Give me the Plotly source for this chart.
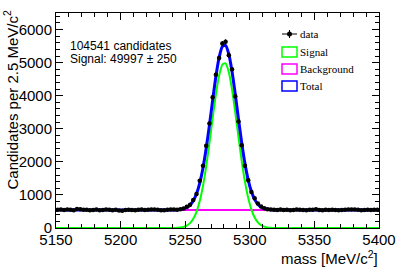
import numpy as np
import plotly.graph_objects as go

# ---------------- data ----------------
bin_width = 2.5
mass_lo, mass_hi = 5150, 5400
bin_centers = [5151.25 + 2.5 * k for k in range(100)]

counts_left = [548, 556, 541, 560, 552, 538, 571, 566, 549, 553,
               540, 547, 558, 536, 544, 562, 551, 539, 548, 530,
               522, 543, 555, 547, 538, 551, 560, 546, 552, 558,
               563, 549, 540, 537, 552, 560, 556, 553]
counts_peak = [565, 590, 640, 705, 850, 1030, 1430, 1880, 2490, 3160,
               3950, 4630, 5140, 5580, 5630, 5220, 4800, 3980, 3220, 2500,
               1880, 1440, 1090, 900, 740, 650, 600, 570, 556]
counts_right = [549, 543, 556, 541, 552, 538, 547, 560, 551, 545,
                539, 553, 548, 566, 542, 536, 549, 541, 555, 547,
                538, 544, 552, 558, 563, 560, 549, 537, 545, 551,
                546, 554, 548]
counts = counts_left + counts_peak + counts_right

# fitted signal component at bin centres 5243.75 ... 5316.25 (zero elsewhere)
signal_core = [6, 15, 35, 74, 147, 277, 490, 815, 1271, 1864,
               2566, 3320, 4035, 4606, 4940, 4977, 4711, 4188, 3498, 2745,
               2024, 1401, 911, 557, 320, 173, 87, 42, 19, 8]
background_level = 545

n_candidates = 104541
n_signal, n_signal_err = 49997, 250

legend_labels = ["data", "Signal", "Background", "Total"]

# ---------------- derived ----------------
signal_fit = [0] * 37 + signal_core + [0] * (100 - 37 - len(signal_core))
fit_mass = [mass_lo] + bin_centers + [mass_hi]
sig_curve = [0] + signal_fit + [0]
bkg_curve = [background_level] * len(fit_mass)
tot_curve = [s + background_level for s in sig_curve]
errs = [float(np.sqrt(c)) for c in counts]

# plot-area geometry (px)
W, H = 399, 271
L, R, T, B = 56, 20, 13, 43
PW, PH = W - L - R, H - T - B


def px(x):
    return (x - L) / PW


def py(y):
    return (H - B - y) / PH


fig = go.Figure()
fig.add_trace(go.Scatter(x=fit_mass, y=bkg_curve, mode="lines",
                         line=dict(color="#ff00ff", width=2), name="Background"))
fig.add_trace(go.Scatter(x=fit_mass, y=sig_curve, mode="lines",
                         line=dict(color="#00ff00", width=2, shape="spline", smoothing=0.6),
                         name="Signal"))
fig.add_trace(go.Scatter(x=fit_mass, y=tot_curve, mode="lines",
                         line=dict(color="#0000ff", width=3, shape="spline", smoothing=0.6),
                         name="Total"))
fig.add_trace(go.Scatter(x=bin_centers, y=counts, mode="markers",
                         marker=dict(color="black", size=4.5),
                         error_y=dict(type="data", array=errs, color="black", thickness=1, width=0),
                         error_x=dict(type="constant", value=bin_width / 2, color="black",
                                      thickness=1, width=0),
                         name="data", cliponaxis=True))

axis_common = dict(showline=True, linecolor="black", linewidth=1, mirror="allticks",
                   ticks="inside", tickcolor="black", showgrid=False, zeroline=False,
                   automargin=False,
                   tickfont=dict(family="Liberation Sans, Arial, sans-serif", size=15, color="black"))
fig.update_xaxes(range=[mass_lo, mass_hi], tick0=5150, dtick=50, ticklen=7,
                 ticklabelstandoff=-2,
                 minor=dict(dtick=10, ticklen=4, ticks="inside", tickcolor="black", showgrid=False),
                 **axis_common)
fig.update_yaxes(range=[0, 6500], tick0=0, dtick=1000, ticklen=7,
                 minor=dict(dtick=200, ticklen=4, ticks="inside", tickcolor="black", showgrid=False),
                 **axis_common)

ann = []
ann.append(dict(text="Candidates per 2.5 MeV/c<sup>2</sup>", textangle=-90,
                xref="paper", yref="paper", x=px(11), y=py(9), xanchor="center", yanchor="top",
                showarrow=False, font=dict(family="Liberation Sans, Arial", size=15, color="black")))
ann.append(dict(text="mass [MeV/c<sup>2</sup>]", xref="paper", yref="paper",
                x=px(380), y=py(257), xanchor="right", yanchor="middle",
                showarrow=False, font=dict(family="Liberation Sans, Arial", size=15, color="black")))
ann.append(dict(text=f"{n_candidates} candidates", xref="paper", yref="paper",
                x=px(68), y=py(45.5), xanchor="left", yanchor="middle", showarrow=False,
                font=dict(family="Liberation Sans, Arial", size=12, color="black")))
ann.append(dict(text=f"Signal: {n_signal} \u00b1 {n_signal_err}", xref="paper", yref="paper",
                x=px(68), y=py(59), xanchor="left", yanchor="middle", showarrow=False,
                font=dict(family="Liberation Sans, Arial", size=12, color="black")))

leg_y = [34, 52, 69, 86]
for lab, yy in zip(legend_labels, leg_y):
    ann.append(dict(text=lab, xref="paper", yref="paper", x=px(298), y=py(yy),
                    xanchor="left", yanchor="middle", showarrow=False,
                    font=dict(family="Liberation Serif, Times New Roman, serif", size=11, color="black")))

shapes = []
# data entry: cross + marker
shapes.append(dict(type="line", xref="paper", yref="paper", x0=px(282), x1=px(297),
                   y0=py(34), y1=py(34), line=dict(color="black", width=1)))
shapes.append(dict(type="line", xref="paper", yref="paper", x0=px(289.5), x1=px(289.5),
                   y0=py(30), y1=py(38), line=dict(color="black", width=1)))
shapes.append(dict(type="circle", xref="paper", yref="paper", x0=px(287), x1=px(292),
                   y0=py(31.5), y1=py(36.5), fillcolor="black", line=dict(color="black", width=0)))
box_colors = ["#00ff00", "#ff00ff", "#0000ff"]
for c, yy in zip(box_colors, leg_y[1:]):
    shapes.append(dict(type="rect", xref="paper", yref="paper", x0=px(282), x1=px(297),
                       y0=py(yy + 5), y1=py(yy - 5), line=dict(color=c, width=1.5),
                       fillcolor="rgba(0,0,0,0)"))

fig.update_layout(width=W, height=H, margin=dict(l=L, r=R, t=T, b=B, pad=0, autoexpand=False),
                  paper_bgcolor="white", plot_bgcolor="white", showlegend=False,
                  annotations=ann, shapes=shapes)

fig.write_html("out.html", config={"displayModeBar": False},
               post_script="document.body.style.margin='0';document.body.style.padding='0';")
